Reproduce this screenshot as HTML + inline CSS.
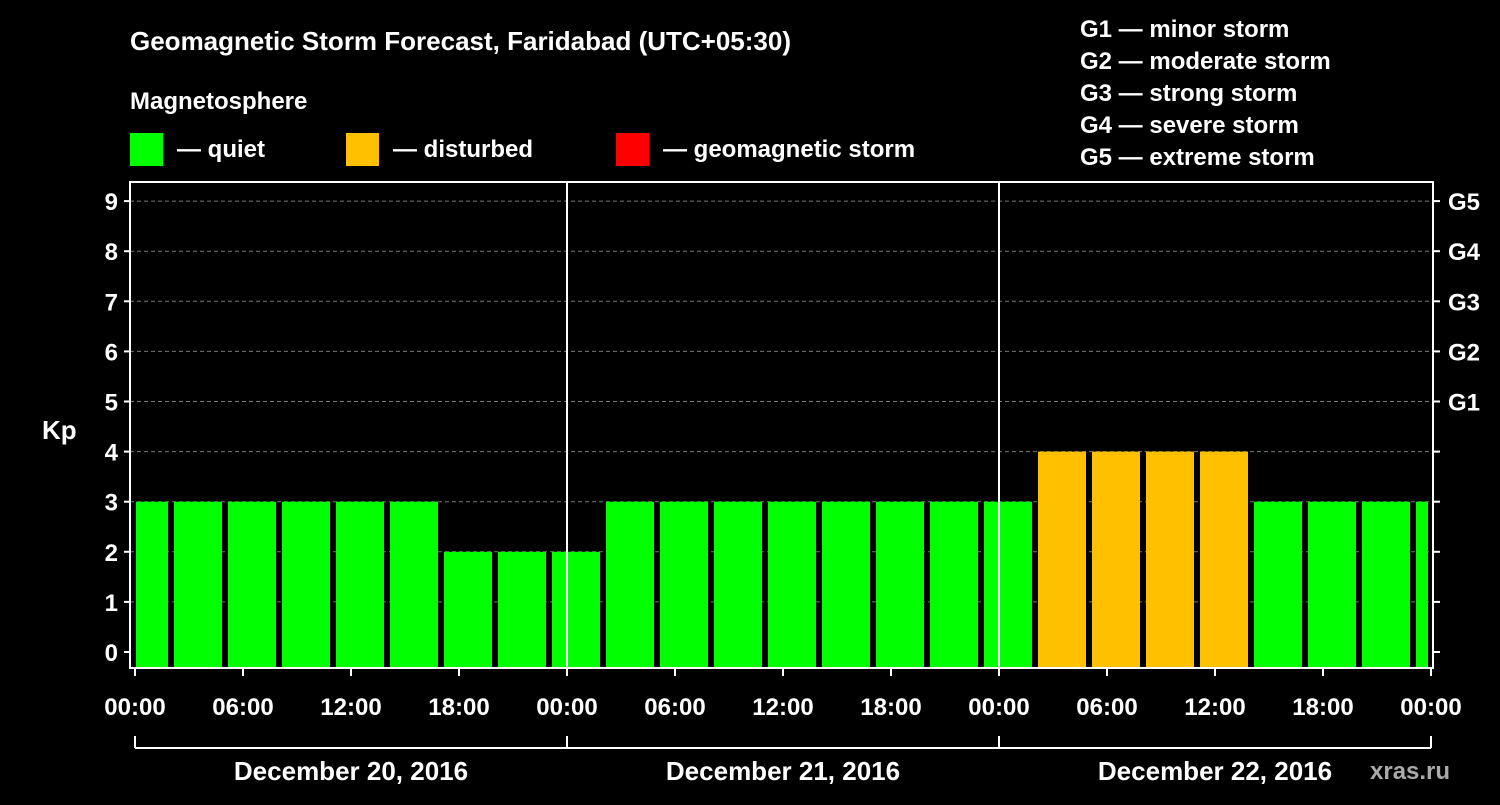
<!DOCTYPE html>
<html><head><meta charset="utf-8"><style>
body{margin:0;background:#000;}
svg text{font-family:"Liberation Sans",Arial,sans-serif;font-weight:bold;fill:#fff;}
</style></head><body>
<svg id="c" width="1500" height="800" viewBox="0 0 1500 800">
<rect x="0" y="0" width="1500" height="800" fill="#000"/>
<text x="130" y="50" font-size="26">Geomagnetic Storm Forecast, Faridabad (UTC+05:30)</text>
<text x="130" y="109" font-size="24">Magnetosphere</text>
<g><rect x="130" y="133" width="33" height="33" fill="#00ff00"/><text x="177" y="157" font-size="24">— quiet</text></g>
<g><rect x="346" y="133" width="33" height="33" fill="#ffc000"/><text x="393" y="157" font-size="24">— disturbed</text></g>
<g><rect x="616" y="133" width="33" height="33" fill="#ff0000"/><text x="663" y="157" font-size="24">— geomagnetic storm</text></g>
<g font-size="24">
<text x="1080" y="37" font-size="24">G1 — minor storm</text>
<text x="1080" y="69" font-size="24">G2 — moderate storm</text>
<text x="1080" y="101" font-size="24">G3 — strong storm</text>
<text x="1080" y="133" font-size="24">G4 — severe storm</text>
<text x="1080" y="165" font-size="24">G5 — extreme storm</text>
</g>
<text x="42" y="439" font-size="26">Kp</text>
<text x="1370" y="779" font-size="24" fill="#aaa" style="fill:#aaa">xras.ru</text>
<g id="grid"></g><g id="bars"></g><g id="axes"></g>
</svg>
<script>
const kpValues=[3,3,3,3,3,3,2,2,2,3,3,3,3,3,3,3,3,4,4,4,4,3,3,3,3];
const yTicks=[0,1,2,3,4,5,6,7,8,9];
const gLabels=["G1","G2","G3","G4","G5"];
const xTickLabels=["00:00","06:00","12:00","18:00","00:00","06:00","12:00","18:00","00:00","06:00","12:00","18:00","00:00"];
const dayLabels=["December 20, 2016","December 21, 2016","December 22, 2016"];
const NS="http://www.w3.org/2000/svg";
const L=130,R=1433,T=182,B=668;
const x0=135,pxH=18;
const y=v=>652-v*50.1;
const xh=h=>x0+h*pxH;
function mk(p,tag,a){const e=document.createElementNS(NS,tag);for(const k in a)e.setAttribute(k,a[k]);document.getElementById(p).appendChild(e);return e;}
// grid
yTicks.forEach(v=>{if(v>0){const g=mk('grid','line',{x1:L,x2:R,y1:y(v),y2:y(v),stroke:'#777','stroke-dasharray':'4,3'});

}});
// bars
kpValues.forEach((v,k)=>{let l=xh(-1)+54*k+3,r=l+48;l=Math.max(l,L+6);r=Math.min(r,R-5);
const b=mk('bars','rect',{x:l,y:y(v),width:r-l,height:B-y(v),fill:v>=5?'#ff0000':(v>=4?'#ffc000':'#00ff00')});

});
// frame
const f=mk('axes','rect',{x:L,y:T,width:R-L,height:B-T,fill:'none',stroke:'#fff','stroke-width':2});


[1,2].forEach(d=>{const ln=mk('axes','line',{x1:xh(24*d),x2:xh(24*d),y1:T,y2:B,stroke:'#fff','stroke-width':2});

});
yTicks.forEach(v=>{mk('axes','line',{x1:L-6,x2:L,y1:y(v),y2:y(v),stroke:'#fff','stroke-width':2});
mk('axes','line',{x1:R,x2:R+7,y1:y(v),y2:y(v),stroke:'#fff','stroke-width':2});
const t=mk('axes','text',{x:L-12,y:y(v)+9,'text-anchor':'end','font-size':24});t.textContent=v;

});
gLabels.forEach((g,i)=>{const t=mk('axes','text',{x:1448,y:y(5+i)+9,'font-size':24});t.textContent=g;

});
xTickLabels.forEach((s,i)=>{const xx=xh(6*i);mk('axes','line',{x1:xx,x2:xx,y1:B,y2:B+8,stroke:'#fff','stroke-width':2});
const t=mk('axes','text',{x:xx,y:715,'text-anchor':'middle','font-size':24});t.textContent=s;

});
const br=mk('axes','line',{x1:xh(0),x2:xh(72),y1:748,y2:748,stroke:'#fff','stroke-width':2});


[0,1,2,3].forEach(d=>mk('axes','line',{x1:xh(24*d),x2:xh(24*d),y1:736,y2:748,stroke:'#fff','stroke-width':2}));
dayLabels.forEach((s,d)=>{const t=mk('axes','text',{x:xh(24*d+12),y:780,'text-anchor':'middle','font-size':26});t.textContent=s;

});
</script>
</body></html>
